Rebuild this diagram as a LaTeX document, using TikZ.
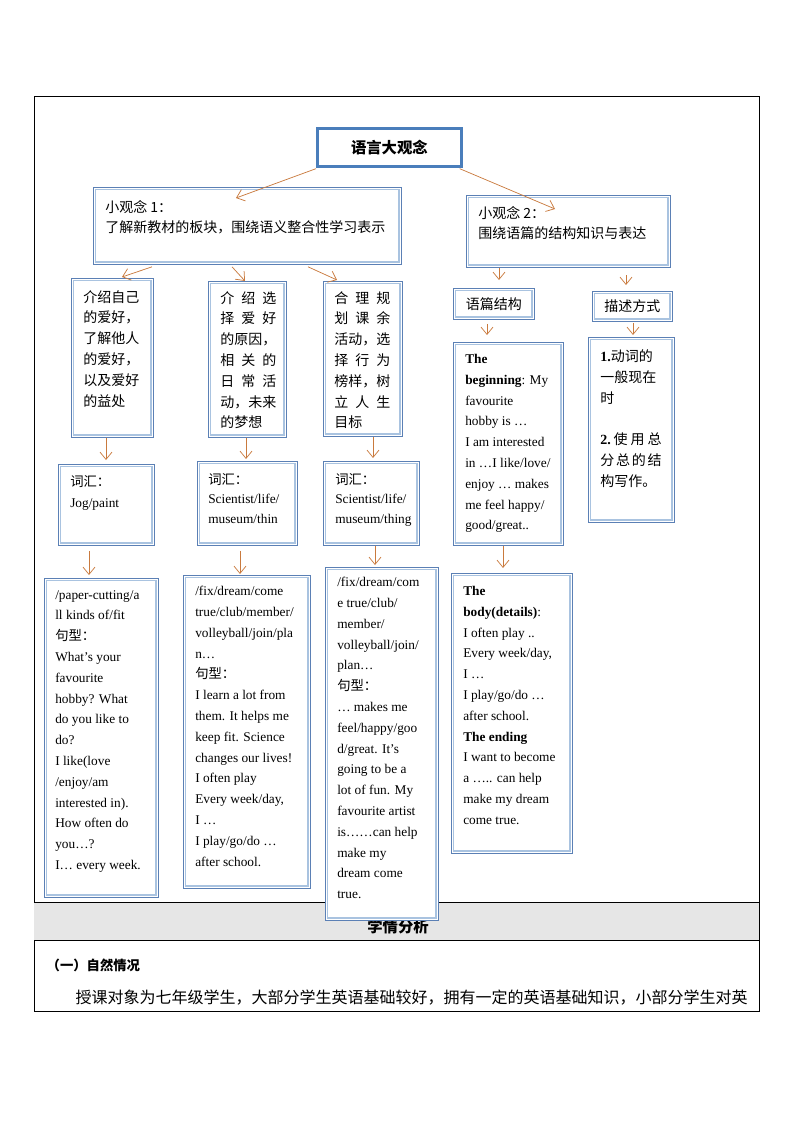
\documentclass[tikz,border=0pt]{standalone}
\usepackage{fontspec}
\setmainfont{Liberation Serif}
\newfontfamily\cjk{Noto Sans CJK SC}
\usetikzlibrary{arrows.meta,calc}
\definecolor{boxdark}{HTML}{5B80B5}
\definecolor{boxlight}{HTML}{A9C3E0}
\definecolor{topblue}{HTML}{4A7EBB}
\definecolor{arr}{HTML}{C97A3E}
\definecolor{band}{HTML}{E6E6E6}
\newcommand\cj[1]{{\cjk #1}}
\newcommand\jl[1]{\hbox to 42pt{#1}}
\newcommand\jg[1]{\hbox to 46pt{#1}}
\newcommand\mkbox[6][box]{\node[#1,minimum width={(#4-#2)*0.75pt},minimum height={(#5-#3)*0.75pt}] (#6) at (#2,#3) {};}
\tikzset{
 box/.style={draw=boxdark, line width=0.6pt, fill=white, inner sep=0pt, anchor=north west,
   path picture={\draw[boxlight,line width=1.1pt] ([shift={(1.7pt,-1.7pt)}]path picture bounding box.north west) rectangle ([shift={(-1.7pt,1.7pt)}]path picture bounding box.south east);}},
 topbox/.style={draw=topblue, line width=2pt, fill=white, inner sep=0pt, anchor=north west,
   font=\cjk\bfseries\fontsize{11.5}{14}\selectfont},
 etxt/.style={inner sep=0pt, anchor=north west, align=left, font=\fontsize{10}{15.6}\selectfont},
 ctxt/.style={inner sep=0pt, anchor=north west, align=left, font=\cjk\fontsize{10.5}{15.6}\selectfont},
 link/.style={draw=arr, line width=0.55pt, -{Straight Barb[length=5.5pt,width=9pt]}},
}
\begin{document}
\begin{tikzpicture}[x=0.75pt,y=-0.75pt]
\useasboundingbox (0,0) rectangle (794,1123);
% frame and table rows
\draw[line width=0.6pt] (34,96) rectangle (759,1011);
\fill[band] (34,902) rectangle (759,940);
\draw[line width=0.6pt] (34,902) -- (759,902) (34,940) -- (759,940);
\node[font=\cjk\bfseries\fontsize{11.5}{14}\selectfont] (xq) at (398,927) {学情分析};
\node[anchor=west, font=\cjk\bfseries\fontsize{10}{12}\selectfont] (h1) at (42,965) {（一）自然情况};
\node[anchor=west, font=\cjk\fontsize{12}{15}\selectfont] (p1) at (71,998) {授课对象为七年级学生，大部分学生英语基础较好，拥有一定的英语基础知识，小部分学生对英};

% top box
\node[topbox,minimum width={(460-316)*0.75pt},minimum height={(165-127)*0.75pt}] (T) at (316,127) {语言大观念};

% level 1
\mkbox{93}{187}{401}{264}{B1}
\node[ctxt, font=\cjk\fontsize{10.5}{15}\selectfont] (B1t) at (105,200) {小观念 1：\\了解新教材的板块，围绕语义整合性学习表示};
\mkbox{466}{195}{670}{267}{B2}
\node[ctxt, font=\cjk\fontsize{10.5}{15}\selectfont] (B2t) at (478,206) {小观念 2：\\围绕语篇的结构知识与表达};

% level 2
\mkbox{71}{278}{153}{437}{A}
\node[ctxt] (At) at (83,290) {介绍自己\\的爱好，\\了解他人\\的爱好，\\以及爱好\\的益处};
\mkbox{208}{281}{286}{437}{Bx}
\node[ctxt] (Bt) at (220,291) {\jl{介\hfil 绍\hfil 选}\\\jl{择\hfil 爱\hfil 好}\\的原因，\\\jl{相\hfil 关\hfil 的}\\\jl{日\hfil 常\hfil 活}\\动，未来\\的梦想};
\mkbox{323}{281}{402}{436}{C}
\node[ctxt] (Ct) at (334,291) {\jl{合\hfil 理\hfil 规}\\\jl{划\hfil 课\hfil 余}\\活动，选\\\jl{择\hfil 行\hfil 为}\\榜样，树\\\jl{立\hfil 人\hfil 生}\\目标};
\mkbox{453}{288}{534}{319}{D}
\node[font=\cjk\fontsize{10.5}{14}\selectfont] (Dt) at (D.center) {语篇结构};
\mkbox{592}{291}{672}{321}{E}
\node[font=\cjk\fontsize{10.5}{14}\selectfont] (Et) at (E.center) {描述方式};

% level 3
\mkbox{58}{464}{154}{545}{H}
\node[etxt, font=\fontsize{10}{15.8}\selectfont] (Ht) at (70,475) {\cj{词汇：}\\Jog/paint};
\mkbox{197}{461}{297}{545}{I}
\node[etxt, font=\fontsize{10}{14.6}\selectfont] (It) at (208,473) {\cj{词汇：}\\Scientist/life/\\museum/thin};
\mkbox{323}{461}{419}{545}{J}
\node[etxt, font=\fontsize{10}{14.6}\selectfont] (Jt) at (335,473) {\cj{词汇：}\\Scientist/life/\\museum/thing};
\mkbox{453}{342}{563}{545}{F}
\node[etxt] (Ft) at (465,354) {\textbf{The}\\\textbf{beginning}: My\\favourite\\hobby is …\\I am interested\\in …I like/love/\\enjoy … makes\\me feel happy/\\good/great..};
\mkbox{588}{337}{674}{522}{G}
\node[ctxt, font=\cjk\fontsize{10.5}{15.8}\selectfont] (Gt) at (600,349) {{\rmfamily\bfseries 1.}动词的\\一般现在\\时\\[15pt]\jg{{\rmfamily\bfseries 2.}\hfil 使\hfil 用\hfil 总}\\\jg{分\hfil 总\hfil 的\hfil 结}\\构写作。};

% level 4
\mkbox{44}{578}{158}{897}{K}
\node[etxt] (Kt) at (55,590) {/paper-cutting/a\\ll kinds of/fit\\\cj{句型：}\\What's your\\favourite\\hobby? What\\do you like to\\do?\\I like(love\\/enjoy/am\\interested in).\\How often do\\you…?\\I… every week.};
\mkbox{183}{575}{310}{888}{L}
\node[etxt] (Lt) at (195,586) {/fix/dream/come\\true/club/member/\\volleyball/join/pla\\n…\\\cj{句型：}\\I learn a lot  from\\them. It helps me\\keep fit. Science\\changes our lives!\\I often play\\Every week/day,\\I …\\I play/go/do  …\\after school.};
\mkbox{451}{573}{572}{853}{N}
\node[etxt] (Nt) at (463,586) {\textbf{The}\\\textbf{body(details)}:\\I often play ..\\Every week/day,\\I …\\I play/go/do …\\after school.\\\textbf{The ending}\\I want to become\\a ….. can help\\make my dream\\come true.};
\mkbox{325}{567}{438}{920}{M}
\node[etxt] (Mt) at (337,577) {/fix/dream/com\\e true/club/\\member/\\volleyball/join/\\plan…\\\cj{句型：}\\… makes me\\feel/happy/goo\\d/great. It's\\going to be a\\lot of fun. My\\favourite artist\\is……can help\\make my\\dream come\\true.};

% connectors
\draw[link] ($(T.south west)+(0,1)$) -- ($(B1.north west)+(143,11)$);
\draw[link] ($(T.south east)+(-3,1)$) -- ($(B2.north west)+(89,14)$);
\draw[link] ($(B1.south west)+(59,2)$) -- ($(A.north west)+(51,-1)$);
\draw[link] ($(B1.south west)+(139,2)$) -- ($(Bx.north west)+(37,0)$);
\draw[link] ($(B1.south west)+(215,2)$) -- ($(C.north west)+(14,-1)$);
\draw[link] ($(B2.south west)+(33,0)$) -- ($(D.north west)+(46,-8)$);
\draw[link] ($(E.north west)+(34,-16)$) -- ($(E.north west)+(34,-6)$);
\draw[link] ($(D.south west)+(34,4)$) -- ($(F.north west)+(34,-7)$);
\draw[link] ($(E.south west)+(41,1)$) -- ($(G.north west)+(45,-2)$);
\draw[link] ($(A.south west)+(35,0)$) -- ($(H.north west)+(48,-4)$);
\draw[link] ($(Bx.south west)+(38,0)$) -- ($(I.north west)+(49,-2)$);
\draw[link] ($(C.south west)+(50,0)$) -- ($(J.north west)+(50,-3)$);
\draw[link] ($(H.south west)+(31,5)$) -- ($(K.north west)+(45,-3)$);
\draw[link] ($(I.south west)+(43,5)$) -- ($(L.north west)+(57,-1)$);
\draw[link] ($(J.south west)+(52,0)$) -- ($(M.north west)+(50,-2)$);
\draw[link] ($(F.south west)+(50,0)$) -- ($(N.north west)+(52,-5)$);
\end{tikzpicture}
\end{document}
